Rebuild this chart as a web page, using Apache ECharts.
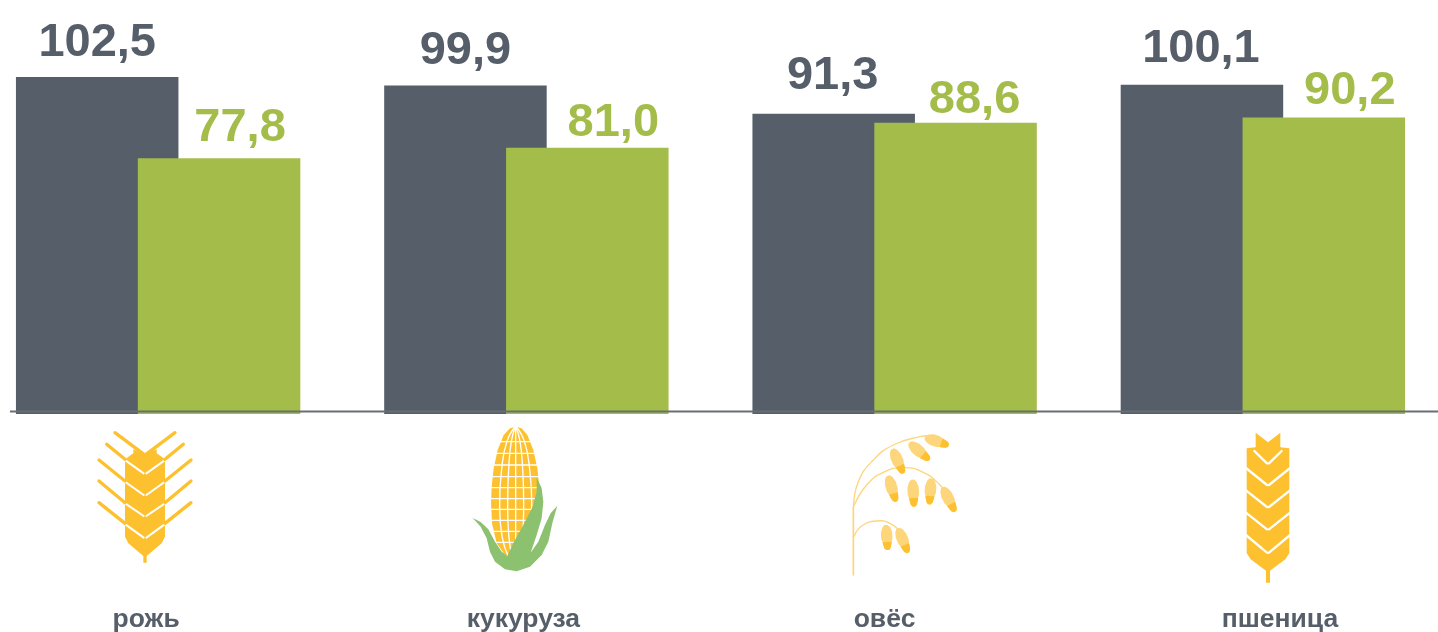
<!DOCTYPE html>
<html><head><meta charset="utf-8">
<style>html,body{margin:0;padding:0;background:#fff}#c{width:1438px;height:632px}</style>
<script src="https://cdn.jsdelivr.net/npm/echarts@6/dist/echarts.min.js"></script>
</head><body><div id="c"></div>
<script>
const categories = ['рожь', 'кукуруза', 'овёс', 'пшеница'];
const darkValues = [102.5, 99.9, 91.3, 100.1];
const greenValues = [77.8, 81.0, 88.6, 90.2];

const DARK = '#565e69', GREEN = '#a4bc4a', YEL = '#fdc130', LEAF = '#8bc16f', PALE = '#fdd67c';
const catShift = [-12, -3, -10, 17];
const darkLabelShift = [[0, -5], [0, -6], [-1, -9], [-1, -7]];
const greenLabelShift = [[21, -2], [26, 4], [19, 6], [26, 2]];

const fmt = p => p.value.toFixed(1).replace('.', ',');
function bars(name, vals, color, shift) {
  return {
    name, type: 'bar', data: vals.map((v, i) => ({
      value: v,
      label: { offset: shift[i] }
    })),
    barWidth: 162.5, barGap: '-25%', itemStyle: { color },
    label: { show: true, position: 'top', distance: 5, formatter: fmt, color,
      fontFamily: 'Liberation Sans', fontWeight: 'bold', fontSize: 47 },
    silent: true, animation: false
  };
}

/* icon helpers, coordinates local to each icon group, drawn at 3x and scaled down */
const poly = (pts, fill) => ({ type: 'polygon', shape: { points: pts }, style: { fill }, silent: true });
const line = (pts, stroke, w, smooth) => ({ type: 'polyline', shape: { points: pts, smooth: smooth || 0 },
  style: { stroke, lineWidth: w, fill: null, lineCap: 'round', lineJoin: 'round' }, silent: true });
const mirror = (x0, p) => p.map(q => [2 * x0 - q[0], q[1]]);
function grain(a, b, wid) {
  const dx = b[0] - a[0], dy = b[1] - a[1], L = Math.hypot(dx, dy), ux = dx / L, uy = dy / L, nx = -uy, ny = ux;
  const prof = [[0, .3], [.1, .7], [.3, 1], [.55, 1], [.68, .8], [.8, .7], [.92, .55], [1, .25]];
  const side = (s, rng) => rng.map(([t, k]) => [a[0] + ux * L * t + s * nx * k * wid / 2, a[1] + uy * L * t + s * ny * k * wid / 2]);
  const body = side(1, prof).concat(side(-1, prof).reverse());
  const tp = prof.filter(q => q[0] >= .68);
  const tip = side(1, tp).concat(side(-1, tp).reverse());
  return [poly(body, PALE), poly(tip, YEL)];
}
function group(x, y, children) { return { type: 'group', x, y, scaleX: 1 / 3, scaleY: 1 / 3, silent: true, children }; }

/* rye */
const ryeC = 255;
const ryeBodyL = [[255, 133], [220, 118], [220, 130], [195, 148], [195, 380], [205, 400], [250, 438], [250, 458], [255, 458]];
const ryeBody = ryeBodyL.concat(mirror(ryeC, ryeBodyL).reverse());
const ryeAwns = [[[165, 68], [252, 133]], [[140, 103], [195, 148]], [[117, 150], [195, 213]], [[117, 213], [195, 278]], [[117, 278], [195, 340]]];
const ryeGaps = [[[192, 148], [251, 190]], [[192, 213], [251, 255]], [[192, 278], [251, 318]], [[192, 340], [251, 383]]];
const ryeKids = [poly(ryeBody, YEL)];
ryeGaps.forEach(g => { ryeKids.push(line(g, '#fff', 6)); ryeKids.push(line(mirror(ryeC, g), '#fff', 6)); });
ryeAwns.forEach(g => { ryeKids.push(line(g, YEL, 10)); ryeKids.push(line(mirror(ryeC, g), YEL, 10)); });

/* corn */
const cornOutline = [[1368, 50], [1385, 55], [1402, 75], [1420, 120], [1432, 175], [1438, 230], [1440, 280], [1436, 340], [1420, 400], [1395, 435], [1365, 442], [1335, 435], [1310, 400], [1296, 340], [1293, 280], [1295, 230], [1301, 175], [1313, 120], [1331, 75], [1350, 55]];
const cornKids = [poly(cornOutline, YEL)];
[-48, -24, 0, 24, 48].forEach(d => {
  cornKids.push(line([[1367, 48], [1367 + d * .55, 95], [1367 + d * .88, 180], [1367 + d, 280], [1367 + d * .85, 380], [1367 + d * .45, 440]], '#fff', 4, .5));
});
[['a', 95, 1318, 1416], ['b', 130, 1310, 1424], ['c', 165, 1303, 1431], ['d', 200, 1298, 1436], ['e', 233, 1294, 1440], ['f', 266, 1292, 1441], ['g', 298, 1292, 1441], ['h', 331, 1294, 1438], ['i', 364, 1298, 1432], ['j', 397, 1308, 1422]]
  .forEach(r => cornKids.push(line([[r[2], r[1]], [r[3], r[1]]], '#fff', 4)));
cornKids.push(poly([[1238, 324], [1262, 336], [1285, 358], [1305, 395], [1325, 425], [1342, 438], [1362, 395], [1390, 345], [1418, 290], [1430, 245], [1430, 202], [1445, 235], [1450, 275], [1445, 325], [1430, 375], [1412, 428], [1435, 395], [1455, 345], [1472, 310], [1492, 287], [1478, 335], [1465, 395], [1445, 435], [1410, 470], [1370, 484], [1335, 478], [1305, 455], [1290, 425], [1280, 385], [1262, 350]], LEAF));

/* oat */
const oatKids = [
  line([[100, 495], [100, 290]], PALE, 5),
  line([[101, 290], [115, 215], [160, 150], [220, 105], [300, 80], [340, 78]], PALE, 4, .5),
  line([[103, 285], [140, 225], [190, 187], [250, 173], [310, 187], [360, 225], [385, 260]], PALE, 4, .5),
  line([[103, 378], [125, 348], [170, 333], [210, 340], [245, 370]], PALE, 4, .5)
];
[[[315, 82], [386, 106], 34], [[268, 98], [328, 150], 34], [[217, 117], [250, 190], 34], [[204, 197], [228, 275], 34],
 [[278, 209], [282, 290], 34], [[334, 205], [328, 283], 34], [[368, 232], [405, 305], 34], [[198, 345], [203, 420], 34], [[234, 355], [264, 428], 34]]
  .forEach(g => oatKids.push(...grain(g[0], g[1], g[2])));

/* wheat */
const wC = 1344;
const wheatL = [[1344, 97], [1307, 68], [1307, 112], [1280, 115], [1280, 430], [1292, 448], [1338, 482], [1338, 518], [1344, 518]];
const wheatKids = [poly(wheatL.concat(mirror(wC, wheatL).reverse()), YEL)];
[[[1303, 123], [1341, 160]], [[1274, 171], [1341, 225]], [[1274, 238], [1341, 291]], [[1274, 305], [1341, 358]], [[1274, 372], [1341, 428]]]
  .forEach(g => { wheatKids.push(line(g, '#fff', 7)); wheatKids.push(line(mirror(wC, g), '#fff', 7)); });

const chart = echarts.init(document.getElementById('c'), null, { renderer: 'canvas' });
chart.setOption({
  animation: false, backgroundColor: '#fff',
  grid: { left: -26, right: -9, top: 3, bottom: 218, outerBoundsMode: 'none' },
  xAxis: { type: 'category',
    data: categories.map((c, i) => ({ value: c, textStyle: { padding: catShift[i] > 0 ? [0, 0, 0, 2 * catShift[i]] : [0, -2 * catShift[i], 0, 0] } })),
    axisLine: { show: false }, axisTick: { show: false },
    axisLabel: { interval: 0, margin: 192, color: DARK, fontFamily: 'Liberation Sans', fontWeight: 'bold', fontSize: 26.5, hideOverlap: false } },
  yAxis: { type: 'value', min: 0, max: 125, show: false },
  series: [bars('dark', darkValues, DARK, darkLabelShift), bars('green', greenValues, GREEN, greenLabelShift)],
  graphic: [
    { type: 'line', shape: { x1: 10, y1: 411.5, x2: 1438, y2: 411.5 }, style: { stroke: '#666e76', lineWidth: 2 }, z: 50, silent: true },
    group(60, 410, ryeKids), group(60, 410, cornKids), group(820, 410, oatKids), group(820, 410, wheatKids)
  ]
});
</script></body></html>
